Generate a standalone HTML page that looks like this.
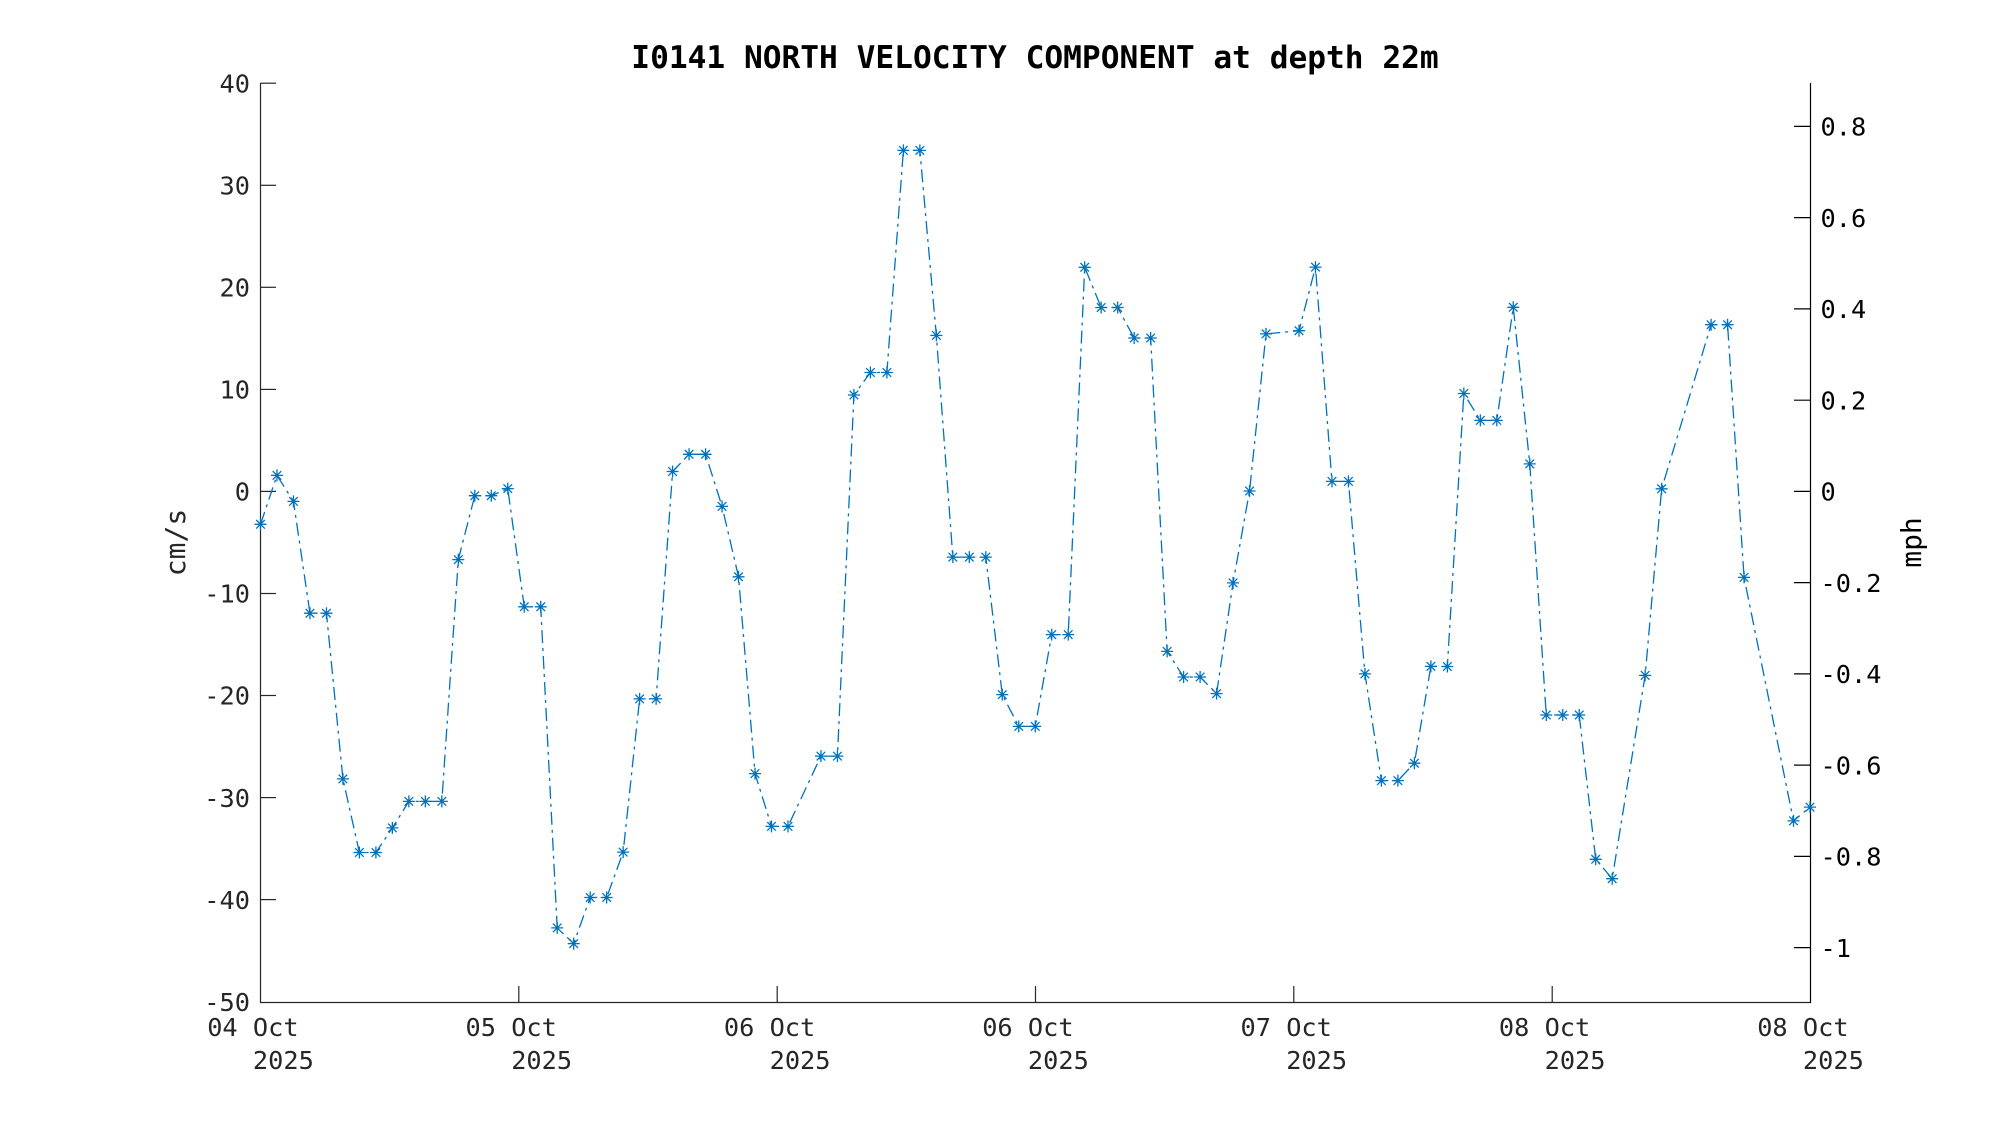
<!DOCTYPE html>
<html>
<head>
<meta charset="utf-8">
<style>
  html, body { margin: 0; padding: 0; background: #ffffff; }
  svg { display: block; }
  text { font-family: "DejaVu Sans Mono", "Liberation Mono", monospace; }
</style>
</head>
<body>
<svg width="2000" height="1125" viewBox="0 0 2000 1125" xmlns="http://www.w3.org/2000/svg">
  <rect x="0" y="0" width="2000" height="1125" fill="#ffffff"/>
  <defs>
    <g id="m">
      <path d="M-6,0H6M0,-6V6M-4.3,-4.3L4.3,4.3M-4.3,4.3L4.3,-4.3" stroke="#0072BD" stroke-width="1.3" fill="none"/>
    </g>
  </defs>

  <text x="1035" y="68" font-size="31.2" font-weight="bold" text-anchor="middle" fill="#000">I0141 NORTH VELOCITY COMPONENT at depth 22m</text>

  <g stroke="#262626" stroke-width="1.2" fill="none">
    <line x1="260.5" y1="83" x2="260.5" y2="1002.5"/>
    <line x1="260" y1="1002.5" x2="1811" y2="1002.5"/>
  </g>
  <line x1="1810.5" y1="83" x2="1810.5" y2="1003" stroke="#000" stroke-width="1.2"/>

  <g stroke="#262626" stroke-width="1.2">
    <line x1="260.5" y1="83.2" x2="276" y2="83.2"/>
    <line x1="260.5" y1="185.3" x2="276" y2="185.3"/>
    <line x1="260.5" y1="287.3" x2="276" y2="287.3"/>
    <line x1="260.5" y1="389.4" x2="276" y2="389.4"/>
    <line x1="260.5" y1="491.4" x2="276" y2="491.4"/>
    <line x1="260.5" y1="593.5" x2="276" y2="593.5"/>
    <line x1="260.5" y1="695.5" x2="276" y2="695.5"/>
    <line x1="260.5" y1="797.6" x2="276" y2="797.6"/>
    <line x1="260.5" y1="899.6" x2="276" y2="899.6"/>
  </g>
  <g font-size="25.3" fill="#262626" text-anchor="end">
    <text x="250" y="92.4">40</text>
    <text x="250" y="194.5">30</text>
    <text x="250" y="296.5">20</text>
    <text x="250" y="398.6">10</text>
    <text x="250" y="500.6">0</text>
    <text x="250" y="602.7">-10</text>
    <text x="250" y="704.7">-20</text>
    <text x="250" y="806.8">-30</text>
    <text x="250" y="908.8">-40</text>
    <text x="250" y="1010.9">-50</text>
  </g>
  <text transform="translate(185,542.5) rotate(-90)" font-size="28" fill="#262626" text-anchor="middle">cm/s</text>

  <g stroke="#000" stroke-width="1.2">
    <line x1="1794" y1="126.4" x2="1810.5" y2="126.4"/>
    <line x1="1794" y1="217.6" x2="1810.5" y2="217.6"/>
    <line x1="1794" y1="308.9" x2="1810.5" y2="308.9"/>
    <line x1="1794" y1="400.2" x2="1810.5" y2="400.2"/>
    <line x1="1794" y1="491.4" x2="1810.5" y2="491.4"/>
    <line x1="1794" y1="582.6" x2="1810.5" y2="582.6"/>
    <line x1="1794" y1="673.9" x2="1810.5" y2="673.9"/>
    <line x1="1794" y1="765.1" x2="1810.5" y2="765.1"/>
    <line x1="1794" y1="856.4" x2="1810.5" y2="856.4"/>
    <line x1="1794" y1="947.6" x2="1810.5" y2="947.6"/>
  </g>
  <g font-size="25.3" fill="#000" text-anchor="start">
    <text x="1820.5" y="135.6">0.8</text>
    <text x="1820.5" y="226.8">0.6</text>
    <text x="1820.5" y="318.1">0.4</text>
    <text x="1820.5" y="409.4">0.2</text>
    <text x="1820.5" y="500.6">0</text>
    <text x="1820.5" y="591.8">-0.2</text>
    <text x="1820.5" y="683.1">-0.4</text>
    <text x="1820.5" y="774.3">-0.6</text>
    <text x="1820.5" y="865.6">-0.8</text>
    <text x="1820.5" y="956.8">-1</text>
  </g>
  <text transform="translate(1921,542.5) rotate(-90)" font-size="28" fill="#000" text-anchor="middle">mph</text>

  <g stroke="#262626" stroke-width="1.2">
    <line x1="518.8" y1="986" x2="518.8" y2="1002.5"/>
    <line x1="777.2" y1="986" x2="777.2" y2="1002.5"/>
    <line x1="1035.5" y1="986" x2="1035.5" y2="1002.5"/>
    <line x1="1293.8" y1="986" x2="1293.8" y2="1002.5"/>
    <line x1="1552.2" y1="986" x2="1552.2" y2="1002.5"/>
  </g>
  <g font-size="25.3" fill="#262626">
    <text x="207.2" y="1036">04 Oct</text><text x="252.9" y="1069">2025</text>
    <text x="465.5" y="1036">05 Oct</text><text x="511.2" y="1069">2025</text>
    <text x="723.9" y="1036">06 Oct</text><text x="769.6" y="1069">2025</text>
    <text x="982.2" y="1036">06 Oct</text><text x="1027.9" y="1069">2025</text>
    <text x="1240.5" y="1036">07 Oct</text><text x="1286.2" y="1069">2025</text>
    <text x="1498.9" y="1036">08 Oct</text><text x="1544.6" y="1069">2025</text>
    <text x="1757.2" y="1036">08 Oct</text><text x="1802.9" y="1069">2025</text>
  </g>

  <polyline fill="none" stroke="#0072BD" stroke-width="1.3" stroke-dasharray="13,5,3,5" stroke-linejoin="round"
    points="260.5,524.3 276.98,475.4 293.47,501.4 309.95,613.2 326.44,613.2 342.92,778.9 359.40,852.5 375.89,852.5 392.37,827.9 408.86,801.4 425.34,801.4 441.82,801.4 458.31,559.6 474.79,495.7 491.28,495.7 507.76,488.6 524.24,606.8 540.73,606.8 557.21,927.9 573.70,943.6 590.18,897.5 606.66,897.5 623.15,852.1 639.63,698.9 656.12,698.9 672.60,471.5 689.08,454.3 705.57,454.3 722.05,506.4 738.54,576.8 755.02,773.6 771.50,826.4 787.99,826.4 820.96,756.1 837.44,756.1 853.92,395 870.41,372.5 886.89,372.5 903.38,150.4 919.86,150.4 936.34,335.4 952.83,557.1 969.31,557.1 985.80,557.1 1002.28,694.6 1018.76,726.4 1035.25,726.4 1051.73,634.6 1068.22,634.6 1084.70,267.3 1101.18,307.5 1117.67,307.5 1134.15,338 1150.64,338 1167.12,651.4 1183.60,677 1200.09,677 1216.57,693.6 1233.06,582.9 1249.54,491 1266.02,333.9 1298.99,330.7 1315.48,267.1 1331.96,481.4 1348.44,481.4 1364.93,673.9 1381.41,780.6 1397.90,780.6 1414.38,763.2 1430.86,666.4 1447.35,666.5 1463.83,393.5 1480.32,420.4 1496.80,420.4 1513.28,307.3 1529.77,463.9 1546.25,715 1562.74,715 1579.22,715 1595.70,859.3 1612.19,878.7 1645.16,675.4 1661.64,488.8 1711.09,324.7 1727.58,324.7 1744.06,577.4 1793.51,820.9 1810.00,807.1"/>

  <g>
    <use href="#m" x="260.5" y="524.3"/>
    <use href="#m" x="276.98" y="475.4"/>
    <use href="#m" x="293.47" y="501.4"/>
    <use href="#m" x="309.95" y="613.2"/>
    <use href="#m" x="326.44" y="613.2"/>
    <use href="#m" x="342.92" y="778.9"/>
    <use href="#m" x="359.40" y="852.5"/>
    <use href="#m" x="375.89" y="852.5"/>
    <use href="#m" x="392.37" y="827.9"/>
    <use href="#m" x="408.86" y="801.4"/>
    <use href="#m" x="425.34" y="801.4"/>
    <use href="#m" x="441.82" y="801.4"/>
    <use href="#m" x="458.31" y="559.6"/>
    <use href="#m" x="474.79" y="495.7"/>
    <use href="#m" x="491.28" y="495.7"/>
    <use href="#m" x="507.76" y="488.6"/>
    <use href="#m" x="524.24" y="606.8"/>
    <use href="#m" x="540.73" y="606.8"/>
    <use href="#m" x="557.21" y="927.9"/>
    <use href="#m" x="573.70" y="943.6"/>
    <use href="#m" x="590.18" y="897.5"/>
    <use href="#m" x="606.66" y="897.5"/>
    <use href="#m" x="623.15" y="852.1"/>
    <use href="#m" x="639.63" y="698.9"/>
    <use href="#m" x="656.12" y="698.9"/>
    <use href="#m" x="672.60" y="471.5"/>
    <use href="#m" x="689.08" y="454.3"/>
    <use href="#m" x="705.57" y="454.3"/>
    <use href="#m" x="722.05" y="506.4"/>
    <use href="#m" x="738.54" y="576.8"/>
    <use href="#m" x="755.02" y="773.6"/>
    <use href="#m" x="771.50" y="826.4"/>
    <use href="#m" x="787.99" y="826.4"/>
    <use href="#m" x="820.96" y="756.1"/>
    <use href="#m" x="837.44" y="756.1"/>
    <use href="#m" x="853.92" y="395"/>
    <use href="#m" x="870.41" y="372.5"/>
    <use href="#m" x="886.89" y="372.5"/>
    <use href="#m" x="903.38" y="150.4"/>
    <use href="#m" x="919.86" y="150.4"/>
    <use href="#m" x="936.34" y="335.4"/>
    <use href="#m" x="952.83" y="557.1"/>
    <use href="#m" x="969.31" y="557.1"/>
    <use href="#m" x="985.80" y="557.1"/>
    <use href="#m" x="1002.28" y="694.6"/>
    <use href="#m" x="1018.76" y="726.4"/>
    <use href="#m" x="1035.25" y="726.4"/>
    <use href="#m" x="1051.73" y="634.6"/>
    <use href="#m" x="1068.22" y="634.6"/>
    <use href="#m" x="1084.70" y="267.3"/>
    <use href="#m" x="1101.18" y="307.5"/>
    <use href="#m" x="1117.67" y="307.5"/>
    <use href="#m" x="1134.15" y="338"/>
    <use href="#m" x="1150.64" y="338"/>
    <use href="#m" x="1167.12" y="651.4"/>
    <use href="#m" x="1183.60" y="677"/>
    <use href="#m" x="1200.09" y="677"/>
    <use href="#m" x="1216.57" y="693.6"/>
    <use href="#m" x="1233.06" y="582.9"/>
    <use href="#m" x="1249.54" y="491"/>
    <use href="#m" x="1266.02" y="333.9"/>
    <use href="#m" x="1298.99" y="330.7"/>
    <use href="#m" x="1315.48" y="267.1"/>
    <use href="#m" x="1331.96" y="481.4"/>
    <use href="#m" x="1348.44" y="481.4"/>
    <use href="#m" x="1364.93" y="673.9"/>
    <use href="#m" x="1381.41" y="780.6"/>
    <use href="#m" x="1397.90" y="780.6"/>
    <use href="#m" x="1414.38" y="763.2"/>
    <use href="#m" x="1430.86" y="666.4"/>
    <use href="#m" x="1447.35" y="666.5"/>
    <use href="#m" x="1463.83" y="393.5"/>
    <use href="#m" x="1480.32" y="420.4"/>
    <use href="#m" x="1496.80" y="420.4"/>
    <use href="#m" x="1513.28" y="307.3"/>
    <use href="#m" x="1529.77" y="463.9"/>
    <use href="#m" x="1546.25" y="715"/>
    <use href="#m" x="1562.74" y="715"/>
    <use href="#m" x="1579.22" y="715"/>
    <use href="#m" x="1595.70" y="859.3"/>
    <use href="#m" x="1612.19" y="878.7"/>
    <use href="#m" x="1645.16" y="675.4"/>
    <use href="#m" x="1661.64" y="488.8"/>
    <use href="#m" x="1711.09" y="324.7"/>
    <use href="#m" x="1727.58" y="324.7"/>
    <use href="#m" x="1744.06" y="577.4"/>
    <use href="#m" x="1793.51" y="820.9"/>
    <use href="#m" x="1810.00" y="807.1"/>
  </g>
</svg>
</body>
</html>
